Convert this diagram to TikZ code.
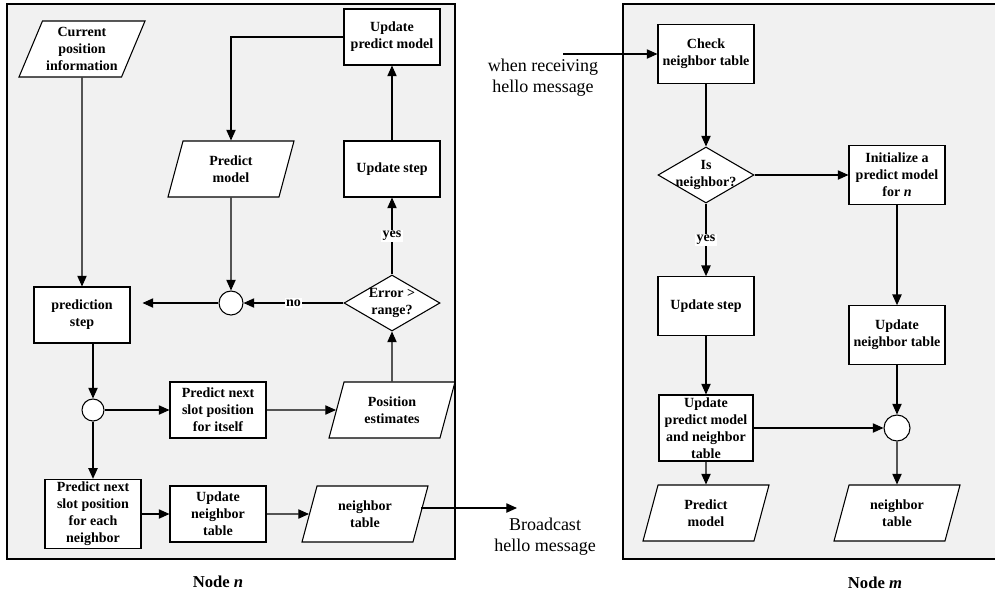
\documentclass[tikz,border=0pt]{standalone}
\usepackage{fontspec}
\setmainfont{Liberation Serif}
\usetikzlibrary{shapes.geometric}
\usetikzlibrary{arrows.meta}
\definecolor{panelgray}{RGB}{241,241,241}

\begin{document}
\begin{tikzpicture}[x=0.75pt,y=-0.75pt,>={Triangle[length=8pt,width=7pt]},line width=0.8pt,
    txt/.style={font=\fontsize{10.5}{12.75}\selectfont\bfseries,align=center},
    box/.style={txt,draw,fill=white,minimum width=72pt,minimum height=42pt,inner sep=1pt},
    io/.style={txt,draw,fill=white,trapezium,trapezium left angle=63,trapezium right angle=117,
        trapezium stretches body,minimum width=94.5pt,minimum height=42pt,inner sep=1pt},
    decision/.style={txt,draw,fill=white,diamond,minimum width=72pt,minimum height=42pt,inner sep=-12pt},
    jct/.style={draw,fill=white,circle,minimum size=18pt,inner sep=0pt},
    lbl/.style={txt,fill=white,inner sep=1pt},
    note/.style={font=\fontsize{13.5}{16}\selectfont,align=center},
    title/.style={font=\fontsize{12.5}{15}\selectfont\bfseries}]
            \useasboundingbox (0,0) rectangle (995,597);
            \fill[panelgray] (7,4) rectangle (455,559);
            \draw[line width=1pt] (7,4) rectangle (455,559);
            \fill[panelgray] (623,4) rectangle (995,559);
            \draw[line width=1pt] (1000,4) -- (623,4) -- (623,559) -- (1000,559);

            \node[io] (cpi) at (82,49) {Current\\position\\information};
            \node[box] (upm) at (392,37) {Update\\predict model};
            \node[io] (pm) at (231,169) {Predict\\model};
            \node[box] (us) at (392,169) {Update step};
            \node[box] (ps) at (82,315) {prediction\\step};
            \node[jct] (j1) at (231,303) {};
            \node[decision] (err) at (392,303) {Error >\\range?};
            \node[jct,minimum size=16.5pt] (j2) at (93,410) {};
            \node[box] (pself) at (218,410) {Predict next\\slot position\\for itself};
            \node[io] (pe) at (392,410) {Position\\estimates};
            \node[box,minimum height=52pt] (pnb) at (93,514) {Predict next\\slot position\\for each\\neighbor};
            \node[box] (unt) at (218,514) {Update\\neighbor\\table};
            \node[io] (nt) at (365,514) {neighbor\\table};
            \coordinate (bc) at (517,508);
            \node[note] (bctxt) at (545,537) {Broadcast\\hello message};
            \node[title] (lbn) at (218,582) {Node \textit{n}};

            \draw[->] (us) -- (upm);
            \draw[->] (upm.west) -| (pm.north);
            \draw[->] (cpi) -- (ps);
            \draw[->] (pm) -- (j1);
            \draw[->] (err) -- node[lbl] {no} (j1);
            \draw[->,shorten >=9pt] (j1) -- (j1 -| ps.east);
            \draw[->] (err) -- node[lbl] {yes} (us);
            \draw[->] (pe) -- (err);
            \draw[->] (ps.south -| j2) -- (j2);
            \draw[->] (j2) -- (pself);
            \draw[->] (pself) -- (pe);
            \draw[->] (j2) -- (pnb);
            \draw[->] (pnb) -- (unt);
            \draw[->] (unt) -- (nt);
            \draw[->] (bc -| nt.east) -- (bc);

            \coordinate (hello) at (563,54);
            \node[note] (hellotxt) at (543,78) {when receiving\\hello message};
            \node[box,minimum height=44pt] (chk) at (706,54) {Check\\neighbor table};
            \node[decision] (isn) at (706,175) {Is\\neighbor?};
            \node[box,minimum height=44pt] (init) at (897,175) {Initialize a\\predict model\\for \textit{n}};
            \node[box,minimum height=44pt] (us2) at (706,306) {Update step};
            \node[box,minimum height=44pt] (unt2) at (897,335) {Update\\neighbor table};
            \node[box,minimum width=70.5pt,minimum height=49.5pt] (upmnt) at (706,428) {Update\\predict model\\and neighbor\\table};
            \node[jct,minimum size=19.5pt] (j3) at (897,428) {};
            \node[io] (pm2) at (706,513) {Predict\\model};
            \node[io] (nt2) at (897,513) {neighbor\\table};
            \node[title] (lbm) at (875,583) {Node \textit{m}};

            \draw[->] (hello) -- (chk);
            \draw[->] (chk) -- (isn);
            \draw[->] (isn) -- (init);
            \draw[->] (isn) -- node[lbl] {yes} (us2);
            \draw[->] (init) -- (unt2);
            \draw[->] (us2) -- (upmnt);
            \draw[->] (unt2) -- (j3);
            \draw[->] (upmnt) -- (j3);
            \draw[->] (upmnt) -- (pm2);
            \draw[->] (j3) -- (nt2);
        \end{tikzpicture}
\end{document}
